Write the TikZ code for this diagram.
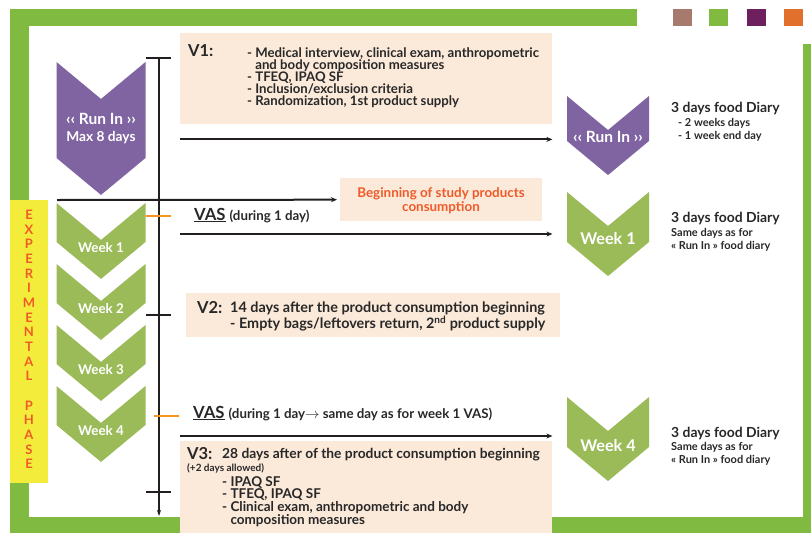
\documentclass[tikz,border=0pt]{standalone}
\usepackage{fontspec}
\setmainfont{Lato}
\usetikzlibrary{arrows.meta,calc,positioning}

\definecolor{framegreen}{RGB}{128,186,64}
\definecolor{weekgreen}{RGB}{155,187,89}
\definecolor{runpurple}{RGB}{128,100,162}
\definecolor{peach}{RGB}{251,233,218}
\definecolor{expyellow}{RGB}{244,236,58}
\definecolor{exporange}{RGB}{240,90,40}
\definecolor{vasorange}{RGB}{247,148,29}
\definecolor{darkline}{RGB}{35,31,32}
\definecolor{darktext}{RGB}{40,40,40}
\definecolor{swbrown}{RGB}{166,123,110}
\definecolor{swpurple}{RGB}{109,31,94}
\definecolor{sworange}{RGB}{224,112,43}

\begin{document}
\begin{tikzpicture}[x=1pt, y=-1pt,
	txt/.style={inner sep=0, text=darktext},
	chevtxt/.style={inner sep=0, text=white},
	infobox/.style={fill=peach, inner sep=0, anchor=north west},
	tl/.style={draw=darkline, line width=2pt},
	vastick/.style={draw=vasorange, line width=2pt},
	arr/.style={draw=darkline, line width=2pt, -{Stealth[length=6pt, width=5pt]}},
	pics/chev/.style n args={3}{code={
		\fill[#3] (-#1,0) -- (0,{0.83*#1}) -- (#1,0) -- (#1,#2) -- (0,{#2+0.83*#1}) -- (-#1,#2) -- cycle;
	}}]
	\useasboundingbox (0,0) rectangle (811,533);
	\fill[framegreen] (10,9) rectangle (637,26);
	\fill[framegreen] (10,9) rectangle (29,533);
	\fill[framegreen] (10,517) rectangle (811,533);
	\fill[framegreen] (803,44) rectangle (811,533);
	\fill[swbrown] (673,9) rectangle (692,26);
	\fill[framegreen] (709,9) rectangle (728,26);
	\fill[swpurple] (747,9) rectangle (766,26);
	\fill[sworange] (784,9) rectangle (803,26);
	\fill[expyellow] (10,200) rectangle (48,483);
	\node[inner sep=0, text=exporange, align=center, font=\fontsize{13}{14.65}\selectfont\bfseries] (exptxt) at (29,339.5) {E\\X\\P\\E\\R\\I\\M\\E\\N\\T\\A\\L\\[14.65pt]P\\H\\A\\S\\E};

	\node[infobox, minimum width=372, minimum height=91] (v1box) at (180,33) {};
	\node[infobox, minimum width=202, minimum height=43] (bsp) at (340,178) {};
	\node[infobox, minimum width=374, minimum height=44] (v2box) at (186,293) {};
	\node[infobox, minimum width=372, minimum height=92] (v3box) at (180,441) {};

	\pic at (101,62) {chev={44.5}{96}{runpurple}};
	\node[chevtxt, font=\fontsize{15.5}{15.5}\selectfont\bfseries] (runinLa) at (101,119) {‹‹ Run In ››};
	\node[chevtxt, font=\fontsize{13.7}{13.7}\selectfont\bfseries] (runinLb) at (101,138) {Max 8 days};
	\foreach \w in {1,...,4} {
		\pic at (101,{203+61*(\w-1)}) {chev={44.5}{39}{weekgreen}};
		\node[chevtxt, font=\fontsize{13.4}{13.4}\selectfont\bfseries] (weekL\w) at (101,{248+61*(\w-1)}) {Week \w};
	}
	\pic at (608,96) {chev={41}{45}{runpurple}};
	\node[chevtxt, font=\fontsize{15.5}{15.5}\selectfont\bfseries] (runinR) at (608,137) {‹‹ Run In ››};
	\pic at (608,192) {chev={41}{50}{weekgreen}};
	\node[chevtxt, font=\fontsize{16.2}{16.2}\selectfont\bfseries] (weekR1) at (608,239) {Week 1};
	\pic at (608,397) {chev={41}{50}{weekgreen}};
	\node[chevtxt, font=\fontsize{16.2}{16.2}\selectfont\bfseries] (weekR4) at (608,446) {Week 4};

	\coordinate (tltop) at (159,58);
	\coordinate (tlend) at (159,516);
	\draw[tl, -{Stealth[length=6pt, width=4pt]}] (tltop) -- (tlend);
	\draw[tl] ($(tltop)+(-13,0)$) -- ($(tltop)+(12,0)$);
	\draw[tl] ($(tltop |- v2box.west)+(-13,0)$) -- ++(25,0);
	\draw[tl] (146,492) -- (171,492);
	\draw[vastick] (146,216) -- (171,216);
	\draw[vastick] (154,416) -- (179,416);

	\coordinate (expstart) at (57,200);
	\coordinate (wk1start) at (180,234);
	\draw[arr] ($(v1box.south west)+(0,15)$) -- ($(v1box.south east)+(0,15)$);
	\draw[arr] (expstart) -- ($(bsp.west)+(-3,0)$);
	\draw[arr] (wk1start) -- (wk1start -| v1box.east);
	\draw[arr] ($(v3box.north west)+(0,-5)$) -- ($(v3box.north east)+(0,-5)$);

	\node[txt, anchor=north west, font=\fontsize{16.5}{16.5}\selectfont\bfseries] (v1lbl) at (188,44) {V1:};
	\node[txt, anchor=north west, align=left, font=\fontsize{13.2}{12.2}\selectfont\bfseries] (v1list) at (247,47) {- Medical interview, clinical exam, anthropometric\\\phantom{- }and body composition measures\\- TFEQ, IPAQ SF\\- Inclusion/exclusion criteria\\- Randomization, 1st product supply};
	\node[txt, text=exporange, align=center, font=\fontsize{13.4}{14}\selectfont\bfseries] (bsptxt) at (441,200.5) {Beginning of study products\\consumption};
	\node[txt, anchor=base west, font=\fontsize{16.7}{16.7}\selectfont\bfseries] (vas1) at (194,220) {\underline{VAS} {\fontsize{13.3}{13.3}\selectfont (during 1 day)}};
	\node[txt, anchor=north west, font=\fontsize{16.5}{16.5}\selectfont\bfseries] (v2lbl) at (197,301) {V2:};
	\node[txt, anchor=north west, align=left, font=\fontsize{14.4}{14.3}\selectfont\bfseries] (v2list) at (230,301.5) {14 days after the product consumption beginning\\- Empty bags/leftovers return, 2\textsuperscript{nd} product supply};
	\node[txt, anchor=base west, font=\fontsize{16.7}{16.7}\selectfont\bfseries] (vas2) at (193,418) {\underline{VAS} {\fontsize{13.3}{13.3}\selectfont (during 1 day$\rightarrow$ same day as for week 1 VAS)}};
	\node[txt, anchor=north west, font=\fontsize{16.5}{16.5}\selectfont\bfseries] (v3lbl) at (187,447.5) {V3:};
	\node[txt, anchor=north west, font=\fontsize{13.8}{13.8}\selectfont\bfseries] (v3head) at (222,448.5) {28 days after of the product consumption beginning};
	\node[txt, anchor=base west, font=\fontsize{10}{10}\selectfont\bfseries] (v3note) at (187,471.5) {(+2 days allowed)};
	\node[txt, anchor=north west, align=left, font=\fontsize{13.5}{12.7}\selectfont\bfseries] (v3list) at (222,476) {- IPAQ SF\\- TFEQ, IPAQ SF\\- Clinical exam, anthropometric and body\\\phantom{- }composition measures};

	\node[txt, anchor=west, font=\fontsize{13.9}{13.9}\selectfont\bfseries] (diaryR0) at (671,108) {3 days food Diary};
	\node[txt, anchor=north west, align=left, font=\fontsize{11}{13}\selectfont\bfseries] (diaryR0sub) at (678,118) {- 2 weeks days\\- 1 week end day};
	\node[txt, anchor=west, font=\fontsize{13.9}{13.9}\selectfont\bfseries] (diaryR1) at (671,218) {3 days food Diary};
	\node[txt, anchor=north west, align=left, font=\fontsize{11}{13.5}\selectfont\bfseries] (diaryR1sub) at (671,228) {Same days as for\\« Run In » food diary};
	\node[txt, anchor=west, font=\fontsize{13.9}{13.9}\selectfont\bfseries] (diaryR4) at (671,433) {3 days food Diary};
	\node[txt, anchor=north west, align=left, font=\fontsize{11}{13.5}\selectfont\bfseries] (diaryR4sub) at (671,442) {Same days as for\\« Run In » food diary};
\end{tikzpicture}
\end{document}
